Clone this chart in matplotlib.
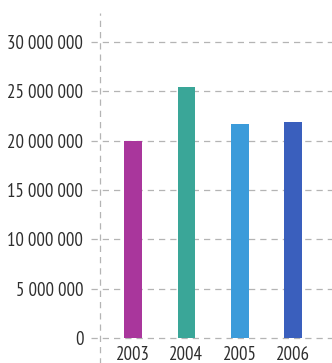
import numpy as np
import matplotlib.pyplot as plt

years = ['2003', '2004', '2005', '2006']
values = [20000000, 25400000, 21700000, 21900000]
colors = ['#a9369c', '#3aa698', '#3b9bda', '#3a5fbd']
yticks = [0, 5000000, 10000000, 15000000, 20000000, 25000000, 30000000]

plt.rcParams['font.family'] = ['PT Sans Narrow', 'Roboto Condensed', 'DejaVu Sans']

fig = plt.figure(figsize=(3.32, 3.63), dpi=100)
ax = fig.add_axes([100 / 332, 25 / 363, 232 / 332, 325 / 363])

x = np.arange(len(years))
ax.bar(x, values, width=0.33, color=colors, zorder=3)

ax.set_xlim(-0.62, 3.73)
ax.set_ylim(0, 32940000)

# dashed grid, running a little past the left axis line
for t in yticks:
    ax.axhline(t, xmin=-0.04, xmax=1, color='#b4b4b4', lw=0.9,
               ls=(0, (5, 4)), clip_on=False, zorder=1)
ax.axvline(-0.62, ymin=-0.08, ymax=1, color='#b4b4b4', lw=0.9,
           ls=(0, (5, 4)), clip_on=False, zorder=1)

for s in ax.spines.values():
    s.set_visible(False)

ax.set_yticks(yticks)
ax.set_yticklabels([f'{t:,}'.replace(',', ' ') for t in yticks])
ax.set_xticks(x)
ax.set_xticklabels(years)
ax.tick_params(axis='y', length=0, pad=12, labelsize=13.5, labelcolor='#2e2e2e')
ax.tick_params(axis='x', length=0, pad=6, labelsize=13.5, labelcolor='#2e2e2e')

fig.savefig('out.png', dpi=100)
